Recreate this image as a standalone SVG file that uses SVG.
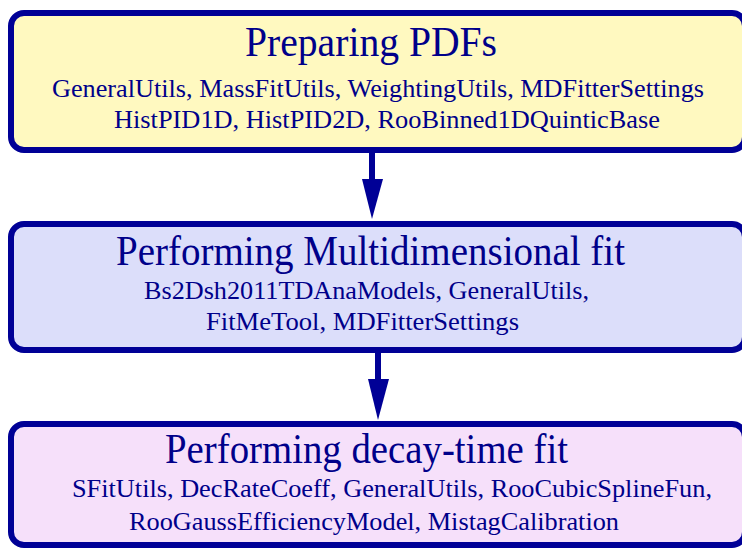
<svg xmlns="http://www.w3.org/2000/svg" width="742" height="549" viewBox="0 0 742 549">
<style>
.box{stroke:#000096;stroke-width:6}
.t{font-family:"Liberation Serif","Times New Roman",serif;fill:#00008a;text-anchor:start}
.h{font-size:42px}
.s{font-size:25.5px}
.conn{stroke:#000096;stroke-width:6;fill:none}
.head{fill:#000096}
</style>
<rect width="742" height="549" fill="#ffffff"/>
<g id="connectors">
<line class="conn" x1="372" y1="150" x2="372" y2="185"/>
<polygon class="head" points="362,179 383,179 372,219"/>
<line class="conn" x1="378" y1="350" x2="378" y2="385"/>
<polygon class="head" points="368,379 389,379 378,420"/>
</g>
<g id="node1">
<rect class="box" x="11" y="13" width="734" height="137" rx="13" fill="#fff9c0"/>
<text class="t h" x="245" y="56" textLength="252" lengthAdjust="spacingAndGlyphs">Preparing PDFs</text>
<text class="t s" x="52" y="97" textLength="652" lengthAdjust="spacingAndGlyphs">GeneralUtils, MassFitUtils, WeightingUtils, MDFitterSettings</text>
<text class="t s" x="114" y="128" textLength="546" lengthAdjust="spacingAndGlyphs">HistPID1D, HistPID2D, RooBinned1DQuinticBase</text>
</g>
<g id="node2">
<rect class="box" x="11" y="224" width="734" height="126" rx="13" fill="#dcdefa"/>
<text class="t h" x="116" y="265" textLength="509" lengthAdjust="spacingAndGlyphs">Performing Multidimensional fit</text>
<text class="t s" x="144" y="299" textLength="445" lengthAdjust="spacingAndGlyphs">Bs2Dsh2011TDAnaModels, GeneralUtils,</text>
<text class="t s" x="206" y="330" textLength="313" lengthAdjust="spacingAndGlyphs">FitMeTool, MDFitterSettings</text>
</g>
<g id="node3">
<rect class="box" x="11" y="424" width="734" height="121" rx="13" fill="#f6e0fa"/>
<text class="t h" x="165" y="463" textLength="403" lengthAdjust="spacingAndGlyphs">Performing decay-time fit</text>
<text class="t s" x="72" y="497" textLength="640" lengthAdjust="spacingAndGlyphs">SFitUtils, DecRateCoeff, GeneralUtils, RooCubicSplineFun,</text>
<text class="t s" x="129" y="530" textLength="490" lengthAdjust="spacingAndGlyphs">RooGaussEfficiencyModel, MistagCalibration</text>
</g>
</svg>
